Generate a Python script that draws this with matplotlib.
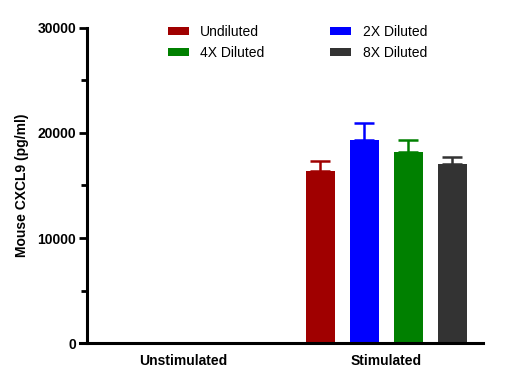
import matplotlib.pyplot as plt
import numpy as np

plt.rcParams.update({
    "font.family": ["Liberation Sans", "DejaVu Sans"],
})

groups = ["Unstimulated", "Stimulated"]
series = ["Undiluted", "2X Diluted", "4X Diluted", "8X Diluted"]
colors = ["#A00000", "#0000FF", "#008000", "#333333"]
means = {
    "Undiluted": [0, 16400],
    "2X Diluted": [0, 19350],
    "4X Diluted": [0, 18200],
    "8X Diluted": [0, 17050],
}
errs = {
    "Undiluted": [0, 880],
    "2X Diluted": [0, 1600],
    "4X Diluted": [0, 1150],
    "8X Diluted": [0, 640],
}

fig = plt.figure(figsize=(5.28, 3.8), dpi=100)
ax = fig.add_axes([0.165, 0.097, 0.75, 0.83])

x = np.arange(len(groups))
width = 0.143
offsets = np.array([-1.5, -0.5, 0.5, 1.5]) * 0.217
handles = {}
for off, name, col in zip(offsets, series, colors):
    vals = np.array(means[name])
    e = np.array(errs[name])
    show = vals > 0
    handles[name] = ax.bar(x[show] + off, vals[show], width, color=col, label=name, zorder=2)
    ax.errorbar(x[show] + off, vals[show], yerr=[np.zeros(show.sum()), e[show]],
                fmt="none", ecolor=col, elinewidth=1.8, capsize=7, capthick=1.8, zorder=1)

ax.set_xlim(-0.473, 1.478)
ax.set_ylim(0, 30000)
ax.set_yticks([0, 10000, 20000, 30000])
ax.set_yticks([5000, 15000, 25000], minor=True)
ax.set_xticks(x)
ax.set_xticklabels(groups, fontweight="bold", fontsize=10)
ax.tick_params(axis="x", length=0, pad=8)
ax.tick_params(axis="y", which="major", length=6, width=2, labelsize=10, pad=2)
ax.tick_params(axis="y", which="minor", length=4, width=2)
for lab in ax.get_yticklabels():
    lab.set_fontweight("bold")
ax.set_ylabel("Mouse CXCL9 (pg/ml)", fontweight="bold", fontsize=10, labelpad=6)

for s in ["top", "right"]:
    ax.spines[s].set_visible(False)
for s in ["left", "bottom"]:
    ax.spines[s].set_linewidth(2.2)
ax.spines["bottom"].set_bounds(-0.51, 1.478)

# row-major order: Undiluted, 2X on first row
order = ["Undiluted", "4X Diluted", "2X Diluted", "8X Diluted"]
ax.legend([handles[n] for n in order], order, ncol=2, frameon=False,
          loc="upper left", bbox_to_anchor=(0.294, 0.968),
          bbox_transform=fig.transFigure,
          fontsize=10, handlelength=1.55, handleheight=0.5, columnspacing=4.7,
          labelspacing=0.55, handletextpad=0.8)

fig.savefig("out.png", dpi=100)
